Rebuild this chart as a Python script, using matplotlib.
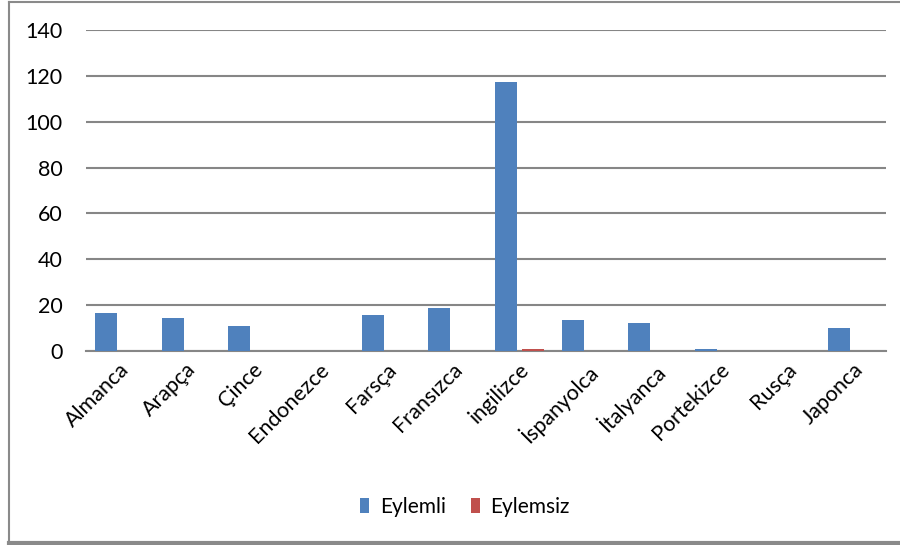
import numpy as np
import matplotlib.pyplot as plt
from matplotlib.lines import Line2D

# Data
languages = ['Almanca', 'Arapça', 'Çince', 'Endonezce', 'Farsça', 'Fransızca',
             'ingilizce', 'İspanyolca', 'İtalyanca', 'Portekizce', 'Rusça', 'Japonca']
eylemli = [16.5, 14.5, 11, 0, 15.7, 18.7, 117.2, 13.5, 12.2, 1, 0, 10]
eylemsiz = [0, 0, 0, 0, 0, 0, 1, 0, 0, 0, 0, 0]
y_ticks = [0, 20, 40, 60, 80, 100, 120, 140]

plt.rcParams['font.family'] = ['Lato', 'DejaVu Sans']

fig = plt.figure(figsize=(9, 5.45), dpi=100)
ax = fig.add_axes([86 / 900, 1 - 351 / 545, 800 / 900, 321 / 545])

x = np.arange(len(languages))
w = 0.33
ax.bar(x - 0.2, eylemli, w, color='#4F81BD', label='Eylemli', zorder=3)
ax.bar(x + 0.2, eylemsiz, w, color='#C0504D', label='Eylemsiz', zorder=3)

ax.set_xlim(-0.5, len(languages) - 0.5)
ax.set_ylim(0, 140)
ax.set_yticks(y_ticks)
ax.set_yticklabels([str(v) for v in y_ticks], fontsize=15.5)
ax.yaxis.grid(True, color='#868686', linewidth=1.5, zorder=0)
ax.tick_params(axis='y', length=0, pad=17)
ax.tick_params(axis='x', length=0, pad=6)
ax.set_xticks(x)
ax.set_xticklabels(languages, rotation=45, ha='right', rotation_mode='anchor',
                   fontsize=15.5)
for side in ['top', 'right', 'left']:
    ax.spines[side].set_visible(False)
ax.spines['bottom'].set_color('#868686')
ax.spines['bottom'].set_linewidth(1.5)

ax.legend(loc='center', bbox_to_anchor=(465 / 900, 1 - 507 / 545),
          bbox_transform=fig.transFigure, ncol=2, frameon=False,
          fontsize=15, handlelength=0.45, handleheight=0.75,
          handletextpad=0.5, columnspacing=1.2)

# frame around the chart, like the pasted screenshot
fig.add_artist(Line2D([9 / 900, 9 / 900], [1 - 2 / 545, 1 - 541 / 545],
                      transform=fig.transFigure, color='#8a8a8a', lw=1.5))
fig.add_artist(Line2D([9 / 900, 1], [1 - 2 / 545, 1 - 2 / 545],
                      transform=fig.transFigure, color='#8a8a8a', lw=1.5))
fig.add_artist(Line2D([9 / 900, 1], [1 - 543 / 545, 1 - 543 / 545],
                      transform=fig.transFigure, color='#8a8a8a', lw=3))

fig.savefig('out.png', dpi=100)
